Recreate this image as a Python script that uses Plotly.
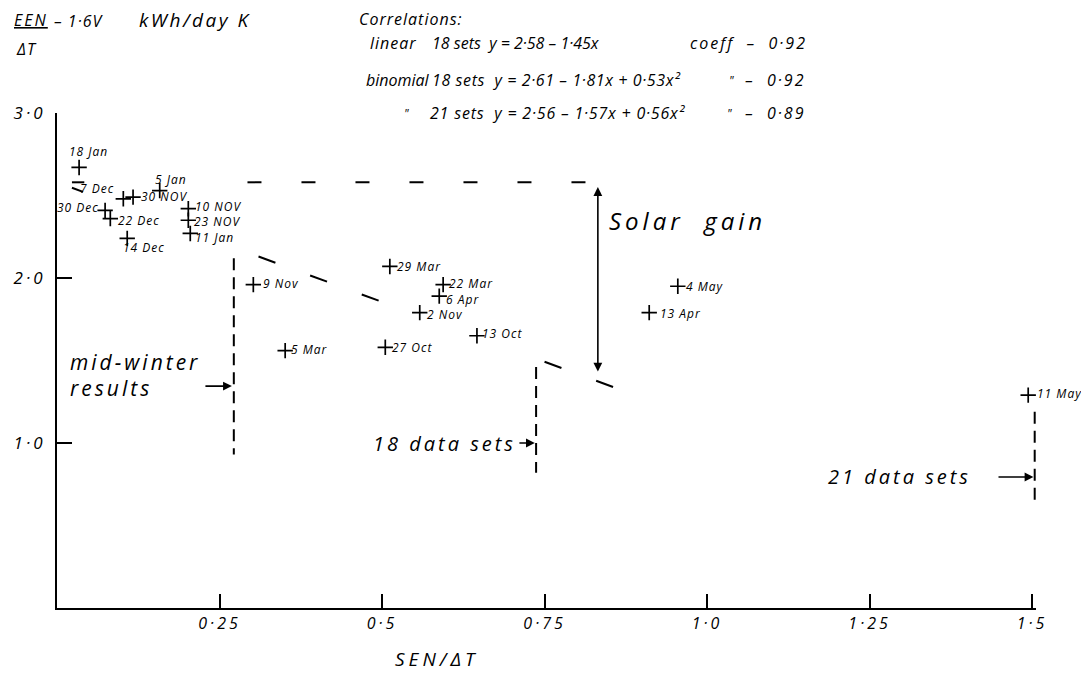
import plotly.graph_objects as go

# ---------------- data ----------------
dates = ["18 Jan", "7 Dec", "30 NOV", "5 Jan", "30 Dec", "22 Dec", "14 Dec",
         "10 NOV", "23 NOV", "11 Jan", "9 Nov", "5 Mar", "29 Mar", "22 Mar",
         "6 Apr", "2 Nov", "27 Oct", "13 Oct", "4 May", "13 Apr", "11 May"]
sen_dt = [0.034, 0.102, 0.117, 0.158, 0.074, 0.082, 0.108,
          0.202, 0.202, 0.205, 0.302, 0.351, 0.512, 0.594,
          0.588, 0.558, 0.505, 0.646, 0.955, 0.911, 1.494]
een_dt = [2.67, 2.48, 2.49, 2.53, 2.41, 2.36, 2.24,
          2.42, 2.35, 2.27, 1.96, 1.56, 2.07, 1.96,
          1.89, 1.79, 1.58, 1.65, 1.95, 1.79, 1.29]

x_tickvals = [0.25, 0.5, 0.75, 1.0, 1.25, 1.5]
x_ticktext = ["0·25", "0·5", "0·75", "1·0", "1·25", "1·5"]
y_tickvals = [1.0, 2.0, 3.0]
y_ticktext = ["1·0", "2·0", "3·0"]

# linear fit (18 sets): y = 2.58 - 1.45x
fit_intercept = 2.58
fit_slope = -1.45
level_segments = [(0.023, 0.042), (0.293, 0.835)]             # drawn parts of y = 2.58 level
fit_segments = [(0.023, 0.040), (0.31, 0.52), (0.75, 0.862)]  # drawn parts of fit line

# vertical cut-off lines: (x, y_from, y_to)
cutoffs = [(0.272, 0.93, 2.12), (0.737, 0.82, 1.46), (1.504, 0.64, 1.19)]
solar_x = 0.832

X_MAX, Y_MAX = 1.506, 3.0

# ---------------- styling ----------------
FONT = "Open Sans"
label_place = {  # xanchor, xshift, yshift (px)
    "18 Jan": ("left", -12, 16), "7 Dec": ("right", -7, 10), "30 NOV": ("left", 6, 1),
    "5 Jan": ("left", -7, 11), "30 Dec": ("right", -4, 3), "22 Dec": ("left", 6, -2),
    "14 Dec": ("left", -6, -9), "10 NOV": ("left", 5, 2), "23 NOV": ("left", 4, -1),
    "11 Jan": ("left", 3, -4), "9 Nov": ("left", 8, 1), "5 Mar": ("left", 4, 1),
    "29 Mar": ("left", 5, 0), "22 Mar": ("left", 4, 1), "6 Apr": ("left", 5, -3),
    "2 Nov": ("left", 5, -2), "27 Oct": ("left", 5, 0), "13 Oct": ("left", 3, 2),
    "4 May": ("left", 6, 0), "13 Apr": ("left", 9, -1), "11 May": ("left", 7, 2),
}


def spaced(s, px):
    return f'<span style="letter-spacing:{px}px">{s}</span>'


def font(size):
    return dict(family=FONT, size=size, color="black", style="italic")


fig = go.Figure()

fig.add_trace(go.Scatter(
    x=sen_dt, y=een_dt, mode="markers", cliponaxis=False, hoverinfo="skip",
    marker=dict(symbol="cross-thin", size=11, line=dict(width=1.7, color="black"), color="black"),
    showlegend=False))

for a, b in level_segments:
    fig.add_trace(go.Scatter(x=[a, b], y=[fit_intercept, fit_intercept], mode="lines",
                             line=dict(color="black", width=2, dash="14px,40px"),
                             showlegend=False, hoverinfo="skip"))
for a, b in fit_segments:
    fig.add_trace(go.Scatter(x=[a, b], y=[fit_intercept + fit_slope * a, fit_intercept + fit_slope * b],
                             mode="lines", line=dict(color="black", width=2, dash="18px,37px"),
                             showlegend=False, hoverinfo="skip"))
for xc, y0, y1 in cutoffs:
    fig.add_trace(go.Scatter(x=[xc, xc], y=[y1, y0], mode="lines",
                             line=dict(color="black", width=2, dash="12px,7px"),
                             showlegend=False, hoverinfo="skip"))

ann = []


def txt(x, y, s, size=16, xanchor="left", ls=0, **kw):
    # positioned in axis units, converted to paper so text outside the axes still shows
    ann.append(dict(x=x / X_MAX, y=y / Y_MAX, xref="paper", yref="paper",
                    text=spaced(s, ls) if ls else s, showarrow=False,
                    xanchor=xanchor, yanchor="middle", font=font(size), **kw))


def arrow(x0, y0, x1, y1, both=False):
    d = dict(x=x1, y=y1, ax=x0, ay=y0, xref="x", yref="y", axref="x", ayref="y",
             showarrow=True, arrowhead=2, arrowsize=1.1, arrowwidth=1.6,
             arrowcolor="black", text="")
    if both:
        d.update(arrowside="end+start", startarrowhead=2)
    ann.append(d)


# point labels
for d, xv, yv in zip(dates, sen_dt, een_dt):
    xa, xs, ys = label_place[d]
    ann.append(dict(x=xv, y=yv, xref="x", yref="y", text=spaced(d, 1), showarrow=False,
                    xanchor=xa, yanchor="middle", xshift=xs, yshift=ys, font=font(12)))

# solar gain double arrow
arrow(solar_x, fit_intercept - 0.02, solar_x, fit_intercept + fit_slope * solar_x + 0.06, both=True)
txt(0.846, 2.35, "Solar  gain", size=24, ls=4)

# mid-winter
txt(0.017, 1.49, "mid-winter", size=21, ls=3)
txt(0.017, 1.333, "results", size=21, ls=3)
arrow(0.226, 1.345, 0.269, 1.345)
txt(0.709, 1.0, "18 data sets", size=20, ls=3, xanchor="right")
arrow(0.709, 1.0, 0.735, 1.0)
txt(1.409, 0.794, "21 data sets", size=20, ls=3, xanchor="right")
arrow(1.446, 0.794, 1.502, 0.794)

# headings
txt(-0.069, 3.565, "<u>EEN</u>", size=16, ls=2)
txt(-0.066, 3.39, "ΔT", size=16, ls=1)
txt(-0.008, 3.56, "– 1·6V", size=16, ls=1)
txt(0.123, 3.565, "kWh/day K", size=19, ls=2.5)
txt(0.4615, 3.57, "Correlations:", size=16, ls=1)
txt(0.478, 3.424, "linear", size=16, ls=1)
txt(0.574, 3.424, "18 sets  y = 2·58 – 1·45x", size=16)
txt(0.472, 3.20, "binomial", size=16)
txt(0.574, 3.20, "18 sets  y = 2·61 – 1·81x + 0·53x²", size=16, ls=0.6)
txt(0.531, 3.0, "\"", size=12)
txt(0.571, 3.0, "21 sets  y = 2·56 – 1·57x + 0·56x²", size=16, ls=0.8)
txt(0.971, 3.424, "coeff  –  0·92", size=16, ls=2)
txt(1.030, 3.20, "\"", size=12)
txt(1.055, 3.20, "–  0·92", size=16, ls=2)
txt(1.028, 3.0, "\"", size=12)
txt(1.055, 3.0, "–  0·89", size=16, ls=2)
txt(0.517, -0.31, "SEN/ΔT", size=19, ls=4)

fig.update_layout(
    width=1081, height=666,
    margin=dict(l=49, r=53, t=105, b=66),
    paper_bgcolor="white", plot_bgcolor="white",
    font=font(16),
    annotations=ann,
    showlegend=False,
)
fig.update_xaxes(range=[0, X_MAX], automargin=False, showgrid=False, zeroline=False, showline=True,
                 linecolor="black", linewidth=2, ticks="inside", ticklen=14, tickwidth=1.6,
                 tickcolor="black", tickvals=x_tickvals,
                 ticktext=[spaced(t, 3) for t in x_ticktext],
                 tickfont=font(16))
fig.update_yaxes(range=[0, Y_MAX], automargin=False, showgrid=False, zeroline=False, showline=True,
                 linecolor="black", linewidth=2, ticks="inside", ticklen=15, tickwidth=1.6,
                 tickcolor="black", tickvals=y_tickvals,
                 ticktext=[spaced(t, 3) for t in y_ticktext],
                 tickfont=font(17), ticklabelstandoff=6)

fig.write_html("out.html")
